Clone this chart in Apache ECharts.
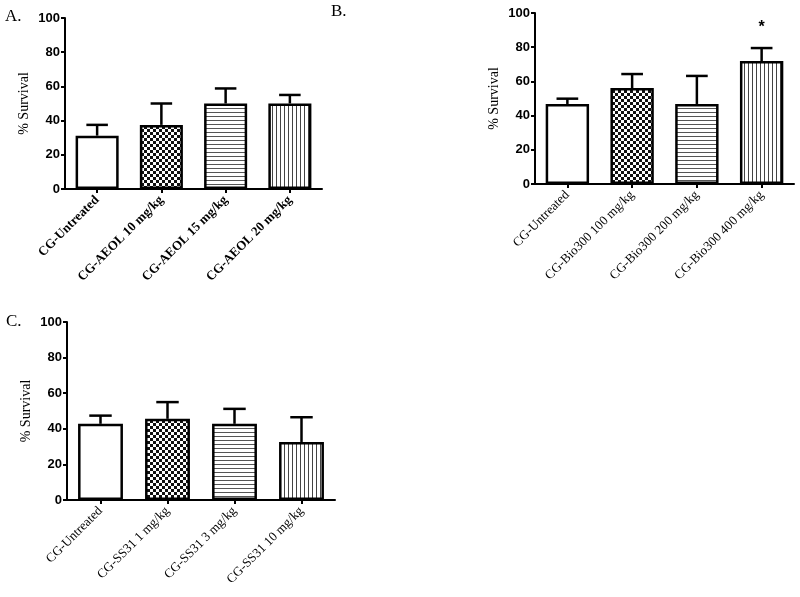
<!DOCTYPE html>
<html><head><meta charset="utf-8">
<script src="https://cdn.jsdelivr.net/npm/echarts@6/dist/echarts.min.js"></script>
<style>html,body{margin:0;padding:0;background:#fff}#c{width:800px;height:597px}</style>
</head><body><div id="c"></div>
<script>
// ---- data ----
const catsA = ['CG-Untreated', 'CG-AEOL 10 mg/kg', 'CG-AEOL 15 mg/kg', 'CG-AEOL 20 mg/kg'];
const meanA = [31.2, 37.5, 50.0, 50.0];
const errA  = [6.3, 12.5, 8.8, 5.0];

const catsB = ['CG-Untreated', 'CG-Bio300 100 mg/kg', 'CG-Bio300 200 mg/kg', 'CG-Bio300 400 mg/kg'];
const meanB = [46.8, 56.1, 46.8, 71.9];
const errB  = [3.1, 8.2, 16.4, 7.6];
const starB = ['', '', '', '*'];

const catsC = ['CG-Untreated', 'CG-SS31 1 mg/kg', 'CG-SS31 3 mg/kg', 'CG-SS31 10 mg/kg'];
const meanC = [42.8, 45.6, 42.8, 32.6];
const errC  = [4.6, 9.4, 8.4, 13.9];

const yTicks = [0, 20, 40, 60, 80, 100];

// ---- patterns ----
function pat(kind) {
  if (kind === 'white') return '#ffffff';
  const c = document.createElement('canvas');
  const ctx = c.getContext('2d');
  if (kind === 'checker') {
    c.width = 6; c.height = 6;
    ctx.fillStyle = '#fff'; ctx.fillRect(0, 0, 6, 6);
    ctx.fillStyle = '#111'; ctx.fillRect(0, 0, 3, 3); ctx.fillRect(3, 3, 3, 3);
  } else if (kind === 'hlines') {
    c.width = 4; c.height = 4;
    ctx.fillStyle = '#fff'; ctx.fillRect(0, 0, 4, 4);
    ctx.fillStyle = '#555'; ctx.fillRect(0, 0, 4, 1);
  } else {
    c.width = 4; c.height = 4;
    ctx.fillStyle = '#fff'; ctx.fillRect(0, 0, 4, 4);
    ctx.fillStyle = '#444'; ctx.fillRect(0, 0, 1, 4);
  }
  return { image: c, repeat: 'repeat' };
}
const fills = [pat('white'), pat('checker'), pat('hlines'), pat('vlines')];

const grids = [
  { left: 65, top: 18, width: 257, height: 171 },
  { left: 535, top: 13, width: 259, height: 171 },
  { left: 67, top: 322, width: 268, height: 178 }
];
const panels = [
  { cats: catsA, mean: meanA, err: errA, bold: true, star: null },
  { cats: catsB, mean: meanB, err: errB, bold: false, star: starB },
  { cats: catsC, mean: meanC, err: errC, bold: false, star: null }
];

const xAxis = [], yAxis = [], series = [];
panels.forEach((p, g) => {
  xAxis.push({
    type: 'category', gridIndex: g, data: p.cats,
    axisLine: { show: true, lineStyle: { color: '#000', width: 2 } },
    axisTick: { show: true, alignWithLabel: true, length: 4, lineStyle: { color: '#000', width: 2 } },
    axisLabel: { interval: 0, rotate: 45, margin: 9, color: '#000', fontFamily: 'Liberation Serif', fontSize: 13, fontWeight: p.bold ? 'bold' : 'normal' },
    splitLine: { show: false }
  });
  yAxis.push({
    type: 'value', gridIndex: g, min: yTicks[0], max: yTicks[yTicks.length - 1], interval: 20,
    name: '% Survival', nameLocation: 'middle', nameGap: 34,
    nameTextStyle: { color: '#000', fontFamily: 'Liberation Serif', fontSize: 14 },
    axisLine: { show: true, lineStyle: { color: '#000', width: 2 } },
    axisTick: { show: true, length: 4, lineStyle: { color: '#000', width: 2 } },
    axisLabel: { color: '#000', fontFamily: 'Liberation Sans', fontWeight: 'bold', fontSize: 13, margin: 5 },
    splitLine: { show: false }
  });
  series.push({
    type: 'bar', xAxisIndex: g, yAxisIndex: g, barWidth: '67%',
    data: p.mean.map((v, i) => ({ value: v, itemStyle: { color: fills[i] } })),
    itemStyle: { borderColor: '#000', borderWidth: 2.5 },
    silent: true, animation: false
  });
  series.push({
    type: 'custom', xAxisIndex: g, yAxisIndex: g, z: 5, animation: false, silent: true,
    data: p.mean.map((v, i) => [i, v, p.err[i]]),
    renderItem: function (params, api) {
      const i = api.value(0), m = api.value(1), e = api.value(2);
      const star = p.star ? p.star[i] : '';
      const p0 = api.coord([i, m]);
      const p1 = api.coord([i, m + e]);
      const bw = api.size([1, 0])[0] * 0.67;
      const half = bw / 4;
      const children = [
        { type: 'line', shape: { x1: p0[0], y1: p0[1], x2: p1[0], y2: p1[1] }, style: { stroke: '#000', lineWidth: 2.5 } },
        { type: 'line', shape: { x1: p1[0] - half, y1: p1[1], x2: p1[0] + half, y2: p1[1] }, style: { stroke: '#000', lineWidth: 2.5 } }
      ];
      if (star) {
        children.push({ type: 'text', x: p1[0], y: p1[1] - 20, style: { text: star, fill: '#000', font: 'bold 16px Liberation Sans', align: 'center', verticalAlign: 'middle' } });
      }
      return { type: 'group', children: children };
    }
  });
});

const chart = echarts.init(document.getElementById('c'), null, { renderer: 'canvas' });
chart.setOption({
  animation: false,
  backgroundColor: '#fff',
  grid: grids,
  xAxis: xAxis,
  yAxis: yAxis,
  series: series,
  graphic: [
    { type: 'text', left: 5, top: 8, style: { text: 'A.', font: '17px Liberation Serif', fill: '#000' } },
    { type: 'text', left: 331, top: 3, style: { text: 'B.', font: '17px Liberation Serif', fill: '#000' } },
    { type: 'text', left: 6, top: 313, style: { text: 'C.', font: '17px Liberation Serif', fill: '#000' } }
  ]
});
</script>
</body></html>
